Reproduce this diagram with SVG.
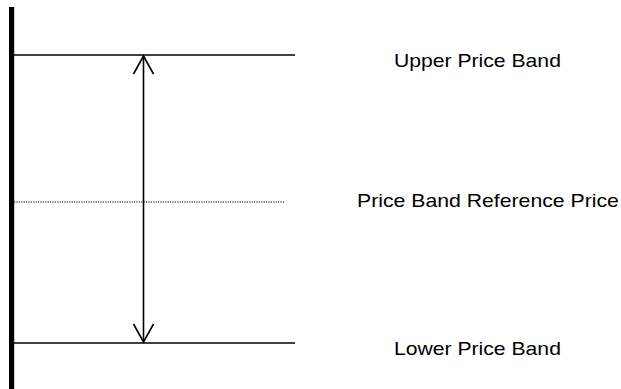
<svg xmlns="http://www.w3.org/2000/svg" width="621" height="389" viewBox="0 0 621 389">
<style>
.ln{stroke:#000;stroke-width:1.6;fill:none}
.lbl{font-family:"Liberation Sans",Arial,sans-serif;font-size:18px;fill:#000}
</style>
<rect width="621" height="389" fill="#fff"/>
<g id="axis"><rect x="9" y="7" width="5.2" height="382" fill="#000"/></g>
<g id="upper">
<line class="ln" x1="14" y1="55" x2="295" y2="55"/>
<text class="lbl" transform="translate(394 67) scale(1.176 1)">Upper Price Band</text>
</g>
<g id="reference">
<line x1="14" y1="202" x2="284" y2="202" stroke="#000" stroke-width="1.2" stroke-dasharray="1.2,1.2"/>
<text class="lbl" transform="translate(357 207) scale(1.18 1)">Price Band Reference Price</text>
</g>
<g id="lower">
<line class="ln" x1="14" y1="343" x2="295" y2="343"/>
<text class="lbl" transform="translate(394 355) scale(1.176 1)">Lower Price Band</text>
</g>
<g id="connectors">
<line class="ln" x1="143.5" y1="56" x2="143.5" y2="342"/>
<polyline class="ln" points="133.5,74 143.5,56 153.5,74"/>
<polyline class="ln" points="133.5,324 143.5,342 153.5,324"/>
</g>
</svg>
